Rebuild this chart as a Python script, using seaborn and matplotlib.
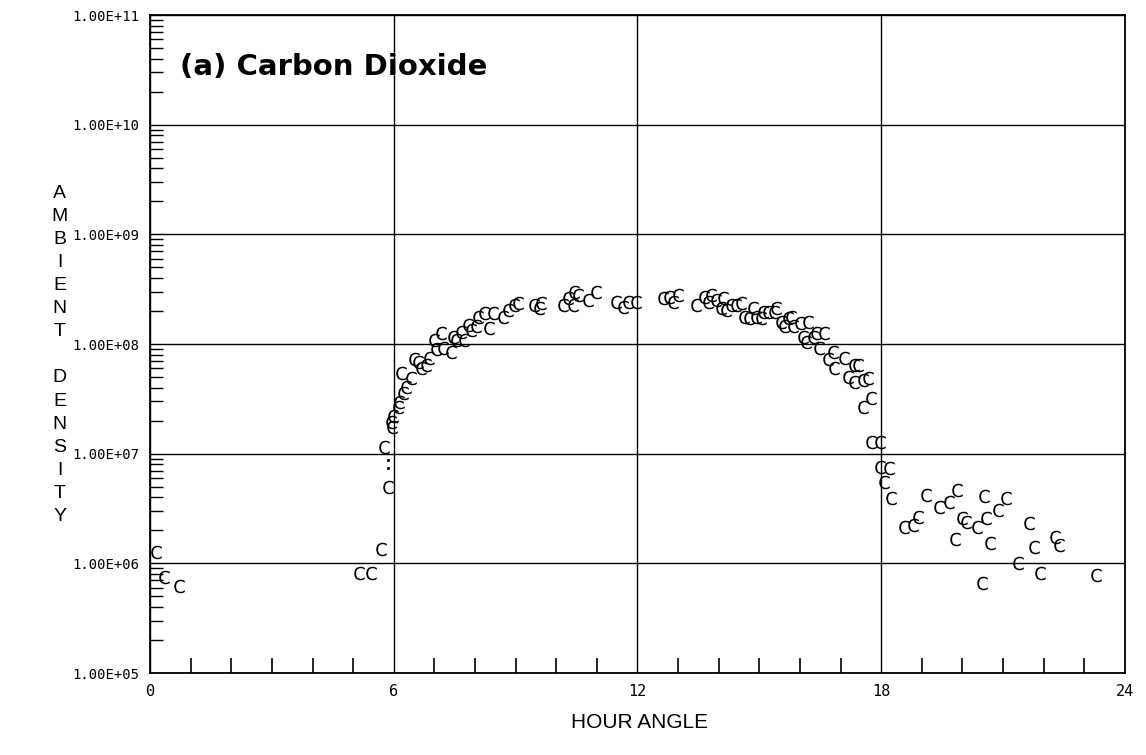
import numpy as np
import pandas as pd
import seaborn as sns
import matplotlib.pyplot as plt
from matplotlib.ticker import FixedLocator, LogLocator, NullFormatter, FuncFormatter

sns.set_style("white")
plt.rcParams['font.family'] = ['DejaVu Sans']
plt.rcParams['text.color'] = 'black'
plt.rcParams['xtick.color'] = 'black'
plt.rcParams['ytick.color'] = 'black'

# hour angle of each "C" symbol
hour = [0.15, 0.34, 0.71, 5.15, 5.44, 5.69, 5.86, 5.76, 5.94, 5.96,
        5.99, 6.11, 6.13, 6.23, 6.31, 6.18, 6.43, 6.50, 6.60, 6.67,
        6.80, 6.87, 7.00, 7.17, 7.04, 7.22, 7.41, 7.46, 7.54, 7.66,
        7.73, 7.83, 7.91, 8.03, 8.08, 8.23, 8.35, 8.45, 8.69, 8.82,
        8.97, 9.06, 9.46, 9.63, 9.58, 10.17, 10.30, 10.44, 10.54, 10.42,
        10.79, 10.99, 11.48, 11.65, 11.77, 11.97, 12.64, 12.78, 13.00, 12.88,
        13.45, 13.65, 13.82, 13.74, 13.94, 14.11, 14.06, 14.19, 14.31, 14.43,
        14.56, 14.63, 14.75, 14.85, 14.93, 15.05, 15.10, 15.22, 15.37, 15.42,
        15.54, 15.62, 15.71, 15.79, 15.84, 15.99, 16.21, 16.08, 16.16, 16.33,
        16.40, 16.48, 16.60, 16.70, 16.82, 16.85, 17.09, 17.32, 17.44, 17.19,
        17.34, 17.56, 17.68, 17.56, 17.76, 17.76, 17.96, 17.96, 18.20, 18.08,
        18.25, 18.57, 18.79, 18.92, 19.11, 19.43, 19.68, 19.88, 19.98, 20.10,
        19.83, 20.37, 20.59, 20.54, 20.67, 20.89, 21.08, 20.49, 21.38, 21.65,
        21.77, 21.92, 22.27, 22.39, 23.28]

# log10 of the ambient density
log_density = [6.10, 5.88, 5.79, 5.91, 5.91, 6.13, 6.70, 7.06, 7.29, 7.24,
               7.34, 7.43, 7.47, 7.55, 7.61, 7.74, 7.69, 7.86, 7.84, 7.78,
               7.81, 7.87, 8.04, 8.10, 7.95, 7.96, 7.93, 8.06, 8.04, 8.11,
               8.04, 8.17, 8.13, 8.16, 8.25, 8.28, 8.15, 8.28, 8.25, 8.31,
               8.36, 8.37, 8.36, 8.37, 8.33, 8.36, 8.42, 8.47, 8.45, 8.36,
               8.40, 8.47, 8.38, 8.34, 8.38, 8.38, 8.42, 8.43, 8.45, 8.38,
               8.36, 8.43, 8.45, 8.38, 8.40, 8.42, 8.33, 8.31, 8.36, 8.36,
               8.37, 8.25, 8.24, 8.33, 8.25, 8.24, 8.29, 8.29, 8.29, 8.33,
               8.20, 8.16, 8.24, 8.25, 8.16, 8.19, 8.20, 8.06, 8.02, 8.06,
               8.10, 7.96, 8.10, 7.86, 7.93, 7.78, 7.87, 7.81, 7.81, 7.70,
               7.65, 7.67, 7.69, 7.43, 7.51, 7.11, 7.11, 6.88, 6.87, 6.74,
               6.60, 6.33, 6.35, 6.42, 6.62, 6.51, 6.56, 6.67, 6.41, 6.38,
               6.22, 6.33, 6.41, 6.61, 6.19, 6.49, 6.60, 5.82, 6.00, 6.37,
               6.15, 5.91, 6.24, 6.17, 5.89]

# the two small dots under the 1.00E+07 line
dot_hour = [5.86, 5.86]
dot_log = [6.94, 6.87]

x_ticks = [0, 6, 12, 18, 24]
y_decades = [1e5, 1e6, 1e7, 1e8, 1e9, 1e10, 1e11]
y_label = "AMBIENT DENSITY"
x_label = "HOUR ANGLE"
title = "(a) Carbon Dioxide"

df = pd.DataFrame({"hour": hour, "density": 10 ** np.array(log_density)})
dots = pd.DataFrame({"hour": dot_hour, "density": 10 ** np.array(dot_log)})

fig = plt.figure(figsize=(11.46, 7.55), dpi=100)
ax = fig.add_axes([0.131, 0.1086, 0.8505, 0.8715])

sns.scatterplot(data=df, x="hour", y="density", ax=ax, marker=r'$\mathsf{C}$',
                s=95, color="black", linewidth=0, legend=False)
sns.scatterplot(data=dots, x="hour", y="density", ax=ax, marker='o',
                s=5, color="black", linewidth=0, legend=False)

ax.set_yscale("log")
ax.set_xlim(0, 24)
ax.set_ylim(1e5, 1e11)

ax.xaxis.set_major_locator(FixedLocator(x_ticks))
ax.xaxis.set_minor_locator(FixedLocator([h for h in range(1, 24) if h % 6]))
ax.yaxis.set_major_locator(FixedLocator(y_decades))
ax.yaxis.set_minor_locator(LogLocator(base=10, subs=np.arange(2, 10)))
ax.yaxis.set_minor_formatter(NullFormatter())
ax.yaxis.set_major_formatter(FuncFormatter(lambda v, p: "%.2E" % v))

ax.tick_params(axis="both", which="both", bottom=True, left=True)
ax.tick_params(axis="both", which="major", length=0, pad=8)
ax.tick_params(axis="x", which="minor", direction="in", length=11, width=1.2)
ax.tick_params(axis="y", which="minor", direction="in", length=9, width=1.0)
for lab in ax.get_yticklabels():
    lab.set_fontfamily("DejaVu Sans Mono")
    lab.set_fontsize(10)
for lab in ax.get_xticklabels():
    lab.set_fontfamily("DejaVu Sans Mono")
    lab.set_fontsize(11)

ax.grid(True, which="major", color="black", linewidth=1.0)
for sp in ax.spines.values():
    sp.set_color("black")
    sp.set_linewidth(1.3)

ax.set_xlabel("")
ax.set_ylabel("")

ax.text(0.031, 0.921, title, transform=ax.transAxes, fontsize=21,
        fontweight="semibold", va="center", ha="left", color="black",
        fontfamily="DejaVu Sans")

fig.text(0.052, 0.53, "\n".join(y_label), ha="center", va="center",
         fontsize=14, linespacing=1.47, fontfamily="Liberation Sans")
fig.text(0.558, 0.043, x_label, ha="center", va="center", fontsize=15,
         fontfamily="Liberation Sans")

fig.savefig("out.png", dpi=100)
